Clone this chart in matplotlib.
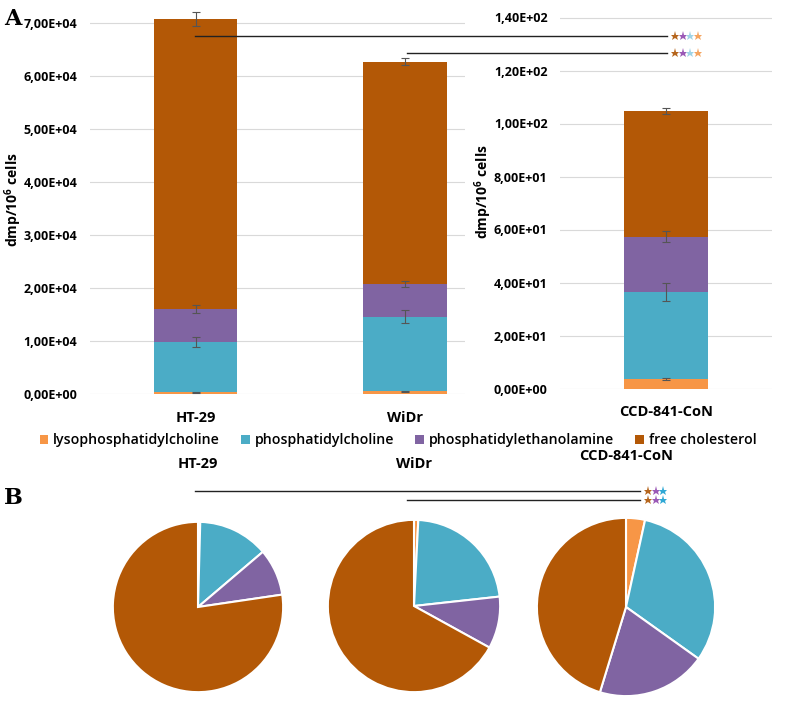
import numpy as np
import matplotlib
matplotlib.use('Agg')
import matplotlib.pyplot as plt
from matplotlib.ticker import FuncFormatter
from matplotlib.patches import Patch

plt.rcParams['font.family'] = ['Open Sans', 'DejaVu Sans']
plt.rcParams['mathtext.default'] = 'regular'

#----data----
lipids = ['lysophosphatidylcholine', 'phosphatidylcholine',
          'phosphatidylethanolamine', 'free cholesterol']
colors = ['#F79646', '#4BACC6', '#8064A2', '#B35806']

cancer_lines = ['HT-29', 'WiDr']
cancer_vals = np.array([[300, 500],        # lyso
                        [9450, 14080],     # PC
                        [6290, 6120],      # PE
                        [54700, 42000]])   # free cholesterol
cancer_err = np.array([[120, 150],
                       [950, 1200],
                       [750, 600],
                       [1400, 700]])

normal_line = ['CCD-841-CoN']
normal_vals = np.array([[3.6], [32.9], [20.8], [47.4]])
normal_err = np.array([[0.3], [3.4], [2.2], [1.0]])

W, H = 794, 707
fig = plt.figure(figsize=(W / 100, H / 100), dpi=100, facecolor='white')


def fbox(x0, x1, ytop, ybot):
    # pixel box -> figure fraction
    return [x0 / W, 1 - ybot / H, (x1 - x0) / W, (ybot - ytop) / H]


def sci_comma(v, pos):
    s = '%.2E' % v
    return s.replace('.', ',')


def stacked(ax, vals, err, ncat, width):
    x = np.arange(ncat)
    bottom = np.zeros(ncat)
    for i in range(len(lipids)):
        ax.bar(x, vals[i], width, bottom=bottom, color=colors[i],
               linewidth=0, zorder=2)
        top = bottom + vals[i]
        ax.errorbar(x, top, yerr=err[i], fmt='none', ecolor='#555555',
                    elinewidth=0.8, capsize=3, capthick=0.8, zorder=3)
        bottom = top


def style(ax):
    for s in ax.spines.values():
        s.set_visible(False)
    ax.yaxis.grid(True, color='#d9d9d9', linewidth=0.8, zorder=0)
    ax.set_axisbelow(True)
    ax.tick_params(axis='y', length=0, labelsize=9, pad=9)
    ax.tick_params(axis='x', length=0, labelsize=10.5, pad=12)
    ax.yaxis.set_major_formatter(FuncFormatter(sci_comma))
    for lab in ax.get_yticklabels() + ax.get_xticklabels():
        lab.set_fontweight('bold')


#----panel A, cancer lines----
ax1 = fig.add_axes(fbox(90, 465, 394 - 7.3 * 53, 394))
stacked(ax1, cancer_vals, cancer_err, 2, 0.40)
ax1.set_xlim(-0.504, 1.286)
ax1.set_ylim(0, 73000)
ax1.set_yticks(np.arange(0, 70001, 10000))
ax1.set_xticks(range(2))
ax1.set_xticklabels(cancer_lines)
style(ax1)

#----panel A, normal line----
ax2 = fig.add_axes(fbox(560, 772, 388.5 - 145 * 2.65, 388.5))
stacked(ax2, normal_vals, normal_err, 1, 0.396)
ax2.set_xlim(-0.5, 0.5)
ax2.set_ylim(0, 145)
ax2.set_yticks(np.arange(0, 141, 20))
ax2.set_xticks([0])
ax2.set_xticklabels(normal_line)
style(ax2)

ylab = 'dmp/10$^{6}$ cells'
fig.text(13 / W, 1 - 200 / H, ylab, rotation=90, ha='center', va='center',
         fontsize=10, fontweight='bold')
fig.text(483 / W, 1 - 192 / H, ylab, rotation=90, ha='center', va='center',
         fontsize=10, fontweight='bold')

#----legend----
handles = [Patch(facecolor=c, edgecolor='none') for c in colors]
leg = fig.legend(handles, lipids, loc='center',
                 bbox_to_anchor=(398 / W, 1 - 440 / H),
                 ncol=4, frameon=False, fontsize=10.2, handlelength=0.6,
                 handleheight=0.6, handletextpad=0.35, columnspacing=1.5)
for t in leg.get_texts():
    t.set_fontweight('semibold')

#----panel B, pies----
pie_boxes = [(112, 284, 521, 693), (327, 501, 519, 693), (536, 716, 517, 697)]
pie_titles = cancer_lines + normal_line
pie_vals = [cancer_vals[:, 0], cancer_vals[:, 1], normal_vals[:, 0]]
title_y = [464, 464, 456]
for (x0, x1, yt, yb), name, v, ty in zip(pie_boxes, pie_titles, pie_vals, title_y):
    ax = fig.add_axes(fbox(x0, x1, yt, yb))
    ax.pie(v, colors=colors, startangle=90, counterclock=False,
           wedgeprops=dict(edgecolor='white', linewidth=1.5))
    ax.set_xlim(-1.01, 1.01)
    ax.set_ylim(-1.01, 1.01)
    ax.set_aspect('equal')
    fig.text((x0 + x1) / 2 / W, 1 - ty / H, name, ha='center', va='center',
             fontsize=10.5, fontweight='bold')

#----significance lines and stars----
def sig(x0, x1, y, star_cols, xs):
    fig.add_artist(plt.Line2D([x0 / W, x1 / W], [1 - y / H, 1 - y / H],
                              color='#222222', linewidth=1))
    for k, c in enumerate(star_cols):
        fig.add_artist(plt.Line2D([(xs + k * 7.5) / W], [1 - y / H], marker='*',
                                  markersize=6.5, markeredgewidth=0,
                                  color=c, linestyle='none'))


starA = ['#B5651D', '#9B59B6', '#9FD3E6', '#F4A460']
starB = ['#B5651D', '#9B59B6', '#2FA8D5']
sig(195, 667, 36, starA, 675)
sig(407, 667, 52.5, starA, 675)
sig(195, 640, 491, starB, 648)
sig(407, 640, 500, starB, 648)

#----panel letters----
fig.text(4 / W, 1 - 19 / H, 'A', fontsize=16, fontweight='bold',
         family='DejaVu Serif', va='center')
fig.text(4 / W, 1 - 498 / H, 'B', fontsize=16, fontweight='bold',
         family='DejaVu Serif', va='center')

fig.savefig('out.png', dpi=100, facecolor='white')
